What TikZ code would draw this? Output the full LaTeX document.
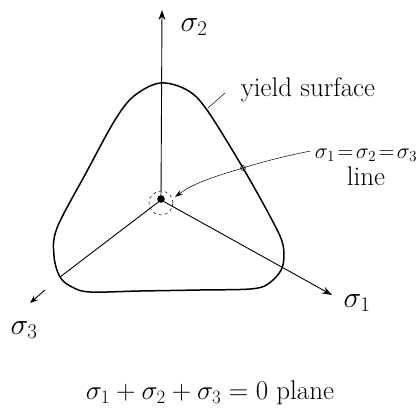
\RequirePackage{fix-cm}
\documentclass[tikz,border=0pt]{standalone}
\usepackage{amsmath}
\usetikzlibrary{arrows.meta,positioning,calc}
\begin{document}
\begin{tikzpicture}[
  x=1pt,y=-1pt,
  font=\fontsize{27}{29}\selectfont,
  axis/.style={line width=0.9pt,-{Stealth[length=10pt,width=7pt]}},
  surf/.style={line width=1.5pt,line join=round},
  lead/.style={line width=0.5pt},
  lbl/.style={inner sep=0pt},
  >=Stealth
]
\useasboundingbox (0,0) rectangle (420,415);

% axes of the deviatoric plane
\coordinate (o) at (161,200);
\coordinate (s2tip) at (162,10);
\coordinate (s1tip) at (332,295);
\coordinate (s3end) at (60,277);
\coordinate (s3a) at (45,290);
\coordinate (s3tip) at (30,303);

\draw[axis] (o) -- (s2tip);
\draw[axis] (o) -- (s1tip);
\draw[line width=0.9pt] (o) -- (s3end);
\draw[axis,-{Stealth[length=8pt,width=6pt]}] (s3a) -- (s3tip);

\node[lbl,font=\fontsize{30}{32}\selectfont] (s2) at (194,27) {$\sigma_2$};
\node[lbl,font=\fontsize{30}{32}\selectfont] (s1) at (357,303) {$\sigma_1$};
\node[lbl,font=\fontsize{30}{32}\selectfont] (s3) at (24,330) {$\sigma_3$};

% yield surface
\draw[surf] plot[smooth cycle,tension=0.55] coordinates {
  (60,277) (54,256) (57,228) (86,173) (115,120) (134,96) (160,83)
  (187,90) (207,110) (243,168) (272,220)
  (283,245) (282,268) (268,284) (250,289) (200,290)
  (140,291) (90,292) (72,287)};

% hydrostatic axis seen end-on
\fill (161,199) circle (3.8pt);
\draw[lead,dashed] (161,203) circle (12pt);

\node[lbl] (ysurf) at (308,90) {yield surface};
\coordinate (ypt) at (208,108);
\coordinate (ystick) at (225,93);
\draw[lead] (ypt) -- (ystick);

\node[lbl,font=\fontsize{22}{24}\selectfont] (hyd) at (366,155) {$\sigma_1\!=\!\sigma_2\!=\!\sigma_3$};
\node[lbl,below=5pt of hyd.south] (hydline) {line};
\coordinate (cross) at (243,168);
\coordinate (hit) at (175,197);
\draw[lead] (cross) circle (2.5pt);
\draw[lead,-{Stealth[length=8pt,width=5pt]}] (hyd.west) ++(-4,-4)
  .. controls (285,156) and (262,162) .. (cross)
  .. controls (220,175) and (195,182) .. (hit);

\node[lbl,font=\fontsize{27}{29}\selectfont] (plane) at (210,393) {$\sigma_1+\sigma_2+\sigma_3=0$ plane};
\end{tikzpicture}
\end{document}
